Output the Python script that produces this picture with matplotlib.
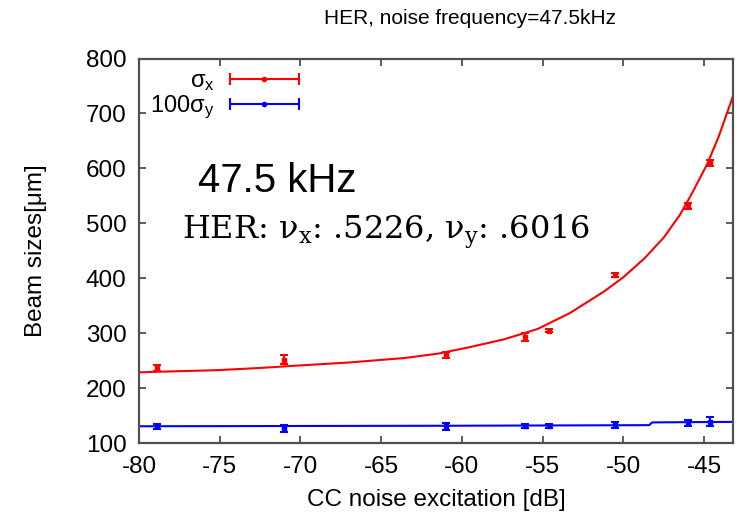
import numpy as np
import matplotlib
matplotlib.use('Agg')
import matplotlib.pyplot as plt
from matplotlib.lines import Line2D
from matplotlib.legend_handler import HandlerLine2D, HandlerTuple

plt.rcParams['font.family'] = ['Liberation Sans', 'DejaVu Sans']
plt.rcParams['mathtext.default'] = 'regular'
plt.rcParams['axes.unicode_minus'] = False

##############  DADOS  ###############

excitation = [-78.9, -71.0, -61.0, -56.1, -54.6, -50.5, -46.0, -44.6]   # dB
sigma_x = [237, 252, 261, 294, 305, 406, 532, 610]
sigma_x_err = [5, 8, 5, 7, 3, 3, 6, 6]
sigma_y100 = [131, 127, 131, 132, 132, 133, 137, 139]
sigma_y100_err = [5, 7, 6, 4, 4, 6, 6, 8]

# curvas de ajuste
fit_x = [-80, -79, -75.2, -72.5, -70.4, -67, -63.6, -61.5, -59.5, -57.4,
         -55.3, -53.3, -51.2, -50, -48.7, -47.5, -46.5, -45.7, -44.8, -44.1,
         -43.4, -43.2]
fit_sx = [229, 230, 233, 237, 241, 247, 255, 263, 275, 289,
          308, 337, 376, 402, 436, 474, 515, 557, 608, 657,
          715, 732]
fit_y_x = [-80, -60, -48.4, -48.2, -43.2]
fit_sy = [131, 132, 133, 138, 139]

RED = '#ff0000'
BLUE = '#0000ff'

##############  FIGURA  #############

fig = plt.figure(figsize=(7.37, 5.2), dpi=100)
ax = fig.add_axes([0.1886, 0.1475, 0.8060, 0.7400])

ax.plot(fit_x, fit_sx, color=RED, lw=1.5, zorder=2)
ax.plot(fit_y_x, fit_sy, color=BLUE, lw=1.5, zorder=2)

ax.errorbar(excitation, sigma_x, yerr=sigma_x_err, fmt='s', ms=3,
            color=RED, ecolor=RED, elinewidth=1.5, capsize=3, capthick=1.5, zorder=3)
ax.errorbar(excitation, sigma_y100, yerr=sigma_y100_err, fmt='s', ms=3,
            color=BLUE, ecolor=BLUE, elinewidth=1.5, capsize=3, capthick=1.5, zorder=3)

ax.set_xlim(-80, -43.2)
ax.set_ylim(100, 800)
ax.set_xticks(np.arange(-80, -44, 5))
ax.set_yticks(np.arange(100, 801, 100))

for s in ax.spines.values():
    s.set_color('#505050')
    s.set_linewidth(1.6)
ax.tick_params(direction='in', top=True, right=True, length=5, width=1.2,
               color='#404040', labelsize=17.5, pad=9)

ax.set_xlabel('CC noise excitation [dB]', fontsize=17.5)
ax.set_ylabel('Beam sizes[μm]', fontsize=17.5)
ax.xaxis.set_label_coords(0.5, -0.12)
ax.yaxis.set_label_coords(-0.155, 0.5)

fig.text(0.638, 0.965, 'HER, noise frequency=47.5kHz', ha='center', va='center',
         fontsize=15)

ax.text(0.099, 0.654, '47.5 kHz', transform=ax.transAxes, fontsize=29,
        va='baseline', ha='left')
ax.text(0.072, 0.530, 'HER: ν$_{x}$: .5226, ν$_{y}$: .6016', transform=ax.transAxes,
        fontsize=23, va='baseline', ha='left', family=['DejaVu Serif'])

# legenda estilo gnuplot
caps_r = Line2D([], [], color=RED, lw=1.5, marker='|', ms=9, mew=1.5)
dot_r = Line2D([], [], color=RED, lw=0, marker='.', ms=6)
caps_b = Line2D([], [], color=BLUE, lw=1.5, marker='|', ms=9, mew=1.5)
dot_b = Line2D([], [], color=BLUE, lw=0, marker='.', ms=6)
hmap = {caps_r: HandlerLine2D(numpoints=2), caps_b: HandlerLine2D(numpoints=2),
        tuple: HandlerTuple(ndivide=1)}
leg = ax.legend([(caps_r, dot_r), (caps_b, dot_b)], [r'$\sigma_x$', r'$100\sigma_y$'],
                handler_map=hmap, loc='upper left', bbox_to_anchor=(0.0, 1.0),
                markerfirst=False, frameon=False, fontsize=17, handlelength=3.5,
                handletextpad=0.35, labelspacing=0.05, borderaxespad=0.28,
                borderpad=0.2)

fig.savefig('out.png', dpi=100)
